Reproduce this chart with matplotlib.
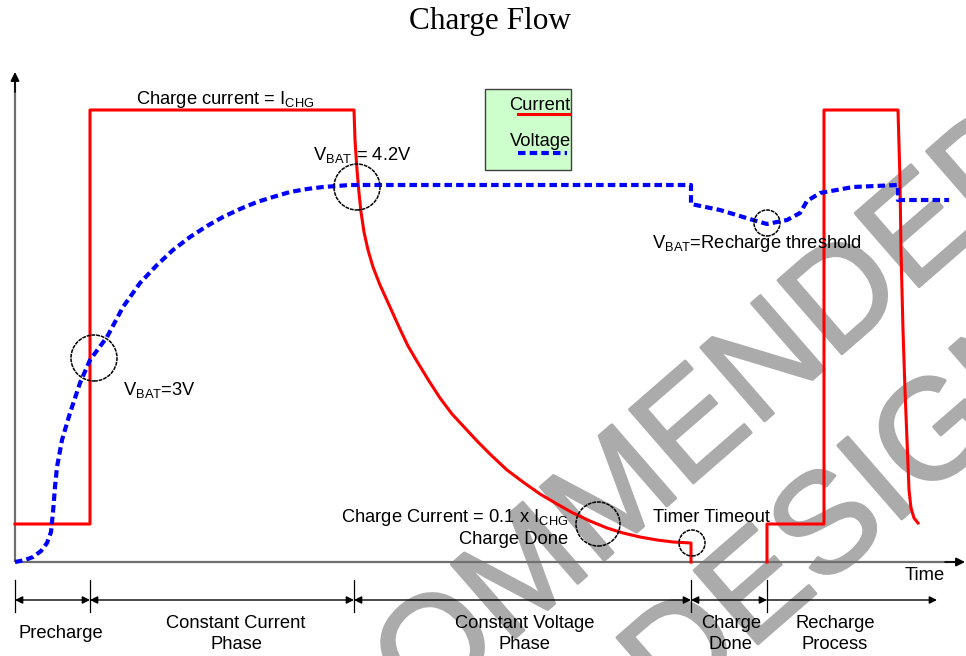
import matplotlib
matplotlib.use("Agg")
import matplotlib.pyplot as plt
from matplotlib.patches import Circle, Rectangle
import matplotlib.patheffects as pe

plt.rcParams['font.family'] = ['Liberation Sans', 'DejaVu Sans']
plt.rcParams['mathtext.fontset'] = 'custom'
plt.rcParams['mathtext.rm'] = 'Liberation Sans'
plt.rcParams['mathtext.it'] = 'Liberation Sans'

# ---------------- data (time units, level units; origin at axis crossing) ----------------
volt_t = [0, 10, 18, 26, 32, 36, 38, 40, 42, 47, 55, 65, 75, 92, 108, 125, 142, 158, 175, 192, 208,
          225, 242, 258, 275, 292, 308, 322, 335,
          676, 676, 705, 738, 752, 772, 785, 792, 805, 838, 883, 883, 934]
volt_v = [0, 2, 5, 11, 19, 30, 50, 75, 95, 122, 149, 179, 202, 225, 255, 279, 297, 312, 325, 336, 345,
          353, 360, 365, 370, 373, 375, 376, 377,
          377, 358, 352, 342, 338, 342, 349, 361, 369, 375, 377, 362, 362]

curr1_t = [0, 75, 75, 339, 340, 342, 344, 346, 349, 353, 358, 365, 375, 384, 393, 403, 414, 425, 437,
           450, 463, 477, 492, 508, 525, 542, 558, 575, 592, 608, 625, 642, 658, 676, 676]
curr1_v = [38, 38, 452, 452, 422, 392, 369, 350, 330, 312, 295, 277, 255, 235, 216, 199, 181, 164, 148,
           134, 120, 106, 92, 80, 68, 58, 49, 41, 34, 29, 25, 22, 20, 19, 0]

curr2_t = [752, 752, 809, 809, 883, 885, 886, 888, 890, 892, 894, 896, 899, 903]
curr2_v = [0, 38, 38, 452, 452, 382, 311, 232, 172, 122, 72, 54, 44, 39]

phase_bounds = [0, 75, 339, 676, 752]
phase_end = 922
phase_labels = ["Precharge", "Constant Current\nPhase", "Constant Voltage\nPhase", "Charge\nDone", "Recharge\nProcess"]
phase_label_x = [46, 221, 510, 716, 820]

circ_x = [79, 342, 583, 677, 752]
circ_y = [204, 375, 38, 19, 339]
circ_r = [23, 23, 22, 13, 13]

# ---------------- figure ----------------
fig = plt.figure(figsize=(9.66, 6.56), dpi=100)
ax = fig.add_axes([0, 0, 1, 1])
ax.set_xlim(-15, 951)
ax.set_ylim(-94, 562)
ax.axis('off')

FS = 13.2
BLUE_DASH = (0, (1.8, 1.0))

# watermark
wm_col = '#ababab'
wm_kw = dict(fontsize=102, color=wm_col, rotation=41, rotation_mode='anchor',
             ha='center', va='center', zorder=0, family='Liberation Sans',
             path_effects=[pe.withStroke(linewidth=2, foreground=wm_col)])
ax.text(462, -60, "NOT RECOMMENDED", **wm_kw)
ax.text(606, -152, "FOR NEW DESIGNS", **wm_kw)

# axes arrows
ax.plot([0, 940], [0, 0], color='#707070', lw=1.6, zorder=2, solid_capstyle='butt')
ax.plot([0, 0], [0, 480], color='#707070', lw=1.6, zorder=2, solid_capstyle='butt')
ax.annotate('', xy=(950, 0), xytext=(930, 0),
            arrowprops=dict(arrowstyle='-|>', color='black', lw=1.2, mutation_scale=13, shrinkA=0, shrinkB=0))
ax.annotate('', xy=(0, 490), xytext=(0, 470),
            arrowprops=dict(arrowstyle='-|>', color='black', lw=1.2, mutation_scale=13, shrinkA=0, shrinkB=0))

# curves
ax.plot(curr1_t, curr1_v, color='#ff0000', lw=2.2, zorder=4, solid_joinstyle='round')
ax.plot(curr2_t, curr2_v, color='#ff0000', lw=2.2, zorder=4, solid_joinstyle='round')
ax.plot(volt_t, volt_v, color='#0000ff', lw=3.0, ls=BLUE_DASH, zorder=5)

# circles
for cx, cy, r in zip(circ_x, circ_y, circ_r):
    ax.add_patch(Circle((cx, cy), r, fill=False, ec='black', lw=1.1, ls=(0, (2.5, 0.6)), zorder=6))

# legend box
ax.add_patch(Rectangle((470, 392), 86, 81, fc='#ccffcc', ec='#404040', lw=1.0, zorder=3))
ax.text(525, 457, "Current", fontsize=FS, ha='center', va='center', zorder=7)
ax.plot([503, 555], [448, 448], color='#ff0000', lw=2.2, zorder=7)
ax.text(526, 421, "Voltage", fontsize=FS, ha='center', va='center', zorder=7)
ax.plot([503, 552], [409, 409], color='#0000ff', lw=3.0, ls=BLUE_DASH, zorder=7)

# annotations
ax.text(210, 462, r"Charge current = I$_{\mathregular{CHG}}$", fontsize=FS, ha='center', va='center', zorder=7)
ax.text(298, 407, r"V$_{\mathregular{BAT}}$ = 4.2V", fontsize=FS, ha='left', va='center', zorder=7)
ax.text(108, 172, r"V$_{\mathregular{BAT}}$=3V", fontsize=FS, ha='left', va='center', zorder=7)
ax.text(637, 319, r"V$_{\mathregular{BAT}}$=Recharge threshold", fontsize=FS, ha='left', va='center', zorder=7)
ax.text(553, 45, r"Charge Current = 0.1 x I$_{\mathregular{CHG}}$", fontsize=FS, ha='right', va='center', zorder=7)
ax.text(553, 23, "Charge Done", fontsize=FS, ha='right', va='center', zorder=7)
ax.text(638, 44, "Timer Timeout", fontsize=FS, ha='left', va='center', zorder=7)
ax.text(910, -13, "Time", fontsize=FS, ha='center', va='center', zorder=7)

# phases
arrow_y = -38
for b in phase_bounds:
    ax.plot([b, b], [-18, -50], color='black', lw=0.9, zorder=3)
for i, lab in enumerate(phase_labels):
    a = phase_bounds[i]
    b = phase_bounds[i + 1] if i + 1 < len(phase_bounds) else phase_end
    style = '<|-|>' if i + 1 < len(phase_bounds) else '-|>'
    ax.annotate('', xy=(b, arrow_y), xytext=(a, arrow_y),
                arrowprops=dict(arrowstyle=style, color='black', lw=1.0, mutation_scale=11, shrinkA=0, shrinkB=0))
    ax.text(phase_label_x[i], -72, lab, fontsize=FS, ha='center', va='center', linespacing=1.25, zorder=7)

# title
ax.text(475, 540, "Charge Flow", fontsize=22.5, family='Liberation Serif', ha='center', va='center')

fig.savefig("out.png", dpi=100)
